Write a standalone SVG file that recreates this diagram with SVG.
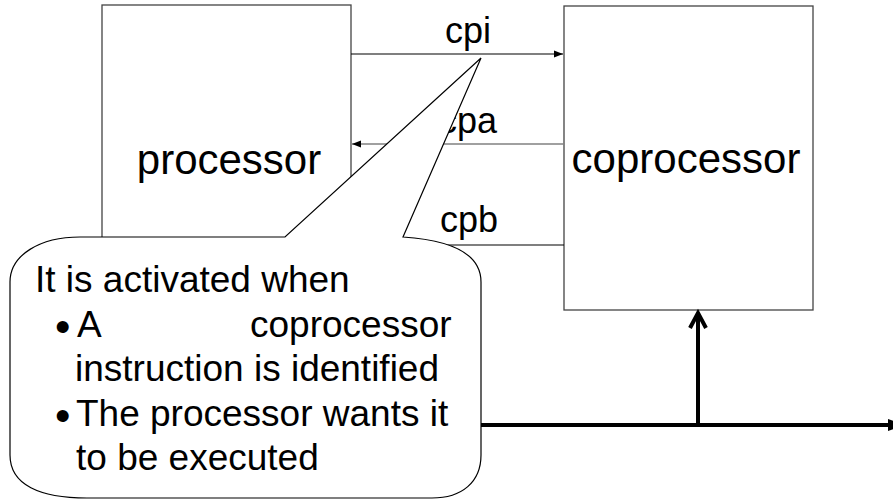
<svg xmlns="http://www.w3.org/2000/svg" width="893" height="501" viewBox="0 0 893 501">
<defs>
<style>
.box{fill:#fff;stroke:#444;stroke-width:1.3}
.t{font-family:"Liberation Sans",Arial,sans-serif;fill:#000}
.big{font-size:42px}
.lbl{font-size:36px;text-anchor:middle}
.co{font-size:37px}
.bul{font-size:44px}
.thin{stroke:#000;stroke-width:1.2;fill:none}
</style>
<marker id="ah" viewBox="0 0 10 10" refX="10" refY="5" markerWidth="9" markerHeight="9" markerUnits="userSpaceOnUse" orient="auto">
<path d="M0,1 L10,5 L0,9 Z" fill="#000"/>
</marker>
</defs>
<g id="processor">
<rect class="box" x="102" y="5" width="249" height="290"/>
<text class="t big" x="229" y="174" text-anchor="middle">processor</text>
</g>
<g id="coprocessor">
<rect class="box" x="564" y="6" width="249" height="304"/>
<text class="t big" x="686" y="173" text-anchor="middle">coprocessor</text>
</g>
<g id="connectors">
<line class="thin" x1="351" y1="54" x2="563" y2="54" marker-end="url(#ah)"/>
<line x1="564" y1="144" x2="352" y2="144" stroke="#808080" stroke-width="1.5" marker-end="url(#ah)"/>
<line class="thin" x1="351" y1="245" x2="564" y2="245"/>
<line x1="470" y1="425" x2="889" y2="425" stroke="#000" stroke-width="4"/>
<polygon points="888,419 905,425 888,431" fill="#000"/>
<line x1="698" y1="425" x2="698" y2="313" stroke="#000" stroke-width="4"/>
<polyline points="690,328 698,313 706,328" fill="none" stroke="#000" stroke-width="4" stroke-linejoin="miter"/>
<text class="t lbl" x="468" y="43">cpi</text>
<text class="t lbl" x="468" y="133">cpa</text>
<text class="t lbl" x="469" y="232">cpb</text>
</g>
<g id="callout">
<path d="M80,237 L285,237 L481,58 L403,237 C448,240 481,252 481,282 L481,455 C481,482 462,498 432,498 L87,498 C40,498 10,485 10,455 L10,282 C10,255 40,237 80,237 Z" fill="#fff" stroke="#000" stroke-width="1.2"/>
<text class="t co" x="35" y="292">It is activated when</text>
<text class="t bul" x="55" y="342">•</text>
<text class="t co" x="77" y="337">A</text>
<text class="t co" x="250" y="337">coprocessor</text>
<text class="t co" x="75" y="381">instruction is identified</text>
<text class="t bul" x="55" y="431">•</text>
<text class="t co" x="76" y="426">The processor wants it</text>
<text class="t co" x="76" y="470">to be executed</text>
</g>
</svg>
